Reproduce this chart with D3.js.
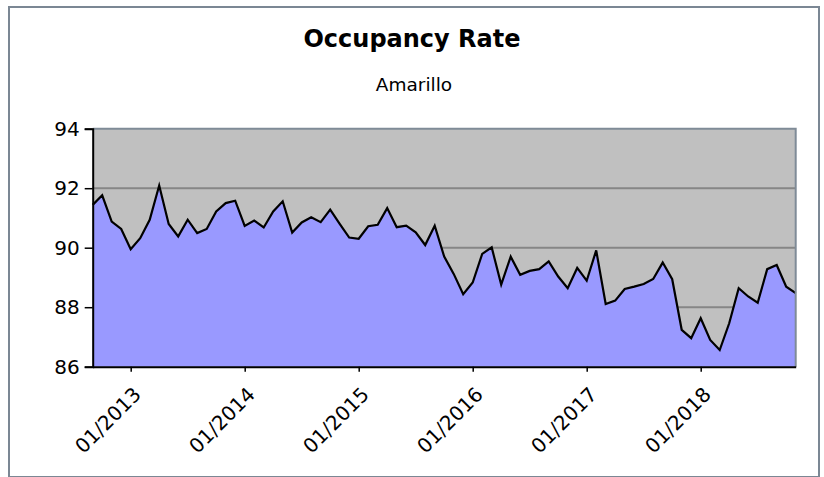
<!DOCTYPE html>
<html><head><meta charset="utf-8">
<script src="https://cdn.jsdelivr.net/npm/d3@7"></script>
<style>body{margin:0;background:#fff}svg{display:block}</style>
</head><body>
<script>
const months = d3.timeMonth.range(new Date(2012, 8, 1), new Date(2018, 11, 1)).map(d3.timeFormat("%m/%Y"));
const occupancy = [
  91.44, 91.76, 90.88, 90.63, 89.95, 90.32, 90.94, 92.09, 90.80, 90.38,
  90.94, 90.49, 90.63, 91.22, 91.50, 91.58, 90.73, 90.91, 90.68, 91.22,
  91.56, 90.51, 90.85, 91.02, 90.86, 91.28, 90.80, 90.34, 90.30, 90.72,
  90.77, 91.33, 90.69, 90.74, 90.52, 90.09, 90.74, 89.70, 89.12, 88.44,
  88.83, 89.79, 90.01, 88.76, 89.70, 89.09, 89.22, 89.28, 89.54, 89.03,
  88.64, 89.32, 88.89, 89.91, 88.11, 88.22, 88.61, 88.69, 88.78, 88.95,
  89.50, 88.94, 87.24, 86.96, 87.63, 86.90, 86.56, 87.46, 88.64, 88.36,
  88.15, 89.28, 89.42, 88.69, 88.47
];
const yTicks = [86, 88, 90, 92, 94];
const xTickLabels = ["01/2013", "01/2014", "01/2015", "01/2016", "01/2017", "01/2018"];
const title = "Occupancy Rate";
const subtitle = "Amarillo";

const W = 824, H = 477;
const L = 92.7, R = 795.7, T = 128.7, B = 366.7;
const font = "'DejaVu Sans', Verdana, sans-serif";

const svg = d3.select("body").append("svg").attr("width", W).attr("height", H);

// outer frame
svg.append("rect").attr("x", 9).attr("y", 7).attr("width", 810).attr("height", 470)
  .attr("fill", "#fff").attr("stroke", "#7b8794").attr("stroke-width", 2);

const x = d3.scalePoint().domain(months).range([L, R]);
const y = d3.scaleLinear().domain([86, 94]).range([B, T]);
const data = months.map((m, i) => ({ m, v: occupancy[i] }));

// plot background
svg.append("rect").attr("x", L).attr("y", T).attr("width", R - L).attr("height", B - T).attr("fill", "#c0c0c0");

// gridlines
svg.append("g").selectAll("line").data(yTicks.filter(t => t > 86 && t < 94)).join("line")
  .attr("x1", L).attr("x2", R).attr("y1", d => y(d)).attr("y2", d => y(d))
  .attr("stroke", "#868686").attr("stroke-width", 2);

// area
svg.append("path").datum(data)
  .attr("d", d3.area().x(d => x(d.m)).y0(y(86)).y1(d => y(d.v)))
  .attr("fill", "#9999ff");

// line
svg.append("path").datum(data)
  .attr("d", d3.line().x(d => x(d.m)).y(d => y(d.v)))
  .attr("fill", "none").attr("stroke", "#000").attr("stroke-width", 2.2).attr("stroke-linejoin", "miter");

// plot border top/right
svg.append("path").attr("d", `M${L},${T}H${R}V${B}`).attr("fill", "none")
  .attr("stroke", "#7f8b97").attr("stroke-width", 2);

// y axis
const yAxis = svg.append("g").attr("transform", `translate(${L},0)`)
  .call(d3.axisLeft(y).tickValues(yTicks).tickSize(8).tickPadding(5).tickFormat(d3.format("d")));
yAxis.select(".domain").attr("stroke", "#000").attr("stroke-width", 2);
yAxis.selectAll(".tick line").attr("stroke", "#000").attr("stroke-width", 1.5);
yAxis.selectAll("text").attr("font-family", font).attr("font-size", 20).attr("fill", "#000");

// x axis
const xAxis = svg.append("g").attr("transform", `translate(0,${B})`)
  .call(d3.axisBottom(x).tickValues(xTickLabels).tickSize(5).tickSizeOuter(0).tickFormat(d => d));
xAxis.select(".domain").attr("stroke", "#000").attr("stroke-width", 2);
xAxis.selectAll(".tick line").attr("stroke", "#000").attr("stroke-width", 1.5);
xAxis.selectAll("text")
  .attr("font-family", font).attr("font-size", 20).attr("fill", "#000")
  .attr("text-anchor", "end").attr("dy", null).attr("y", 0)
  .attr("transform", "translate(11,29) rotate(-45)");

// titles
svg.append("text").attr("x", 412).attr("y", 47).attr("text-anchor", "middle")
  .attr("font-family", font).attr("font-weight", "bold").attr("font-size", 24).text(title);
svg.append("text").attr("x", 414).attr("y", 91).attr("text-anchor", "middle")
  .attr("font-family", font).attr("font-size", 18.5).text(subtitle);
</script>
</body></html>
